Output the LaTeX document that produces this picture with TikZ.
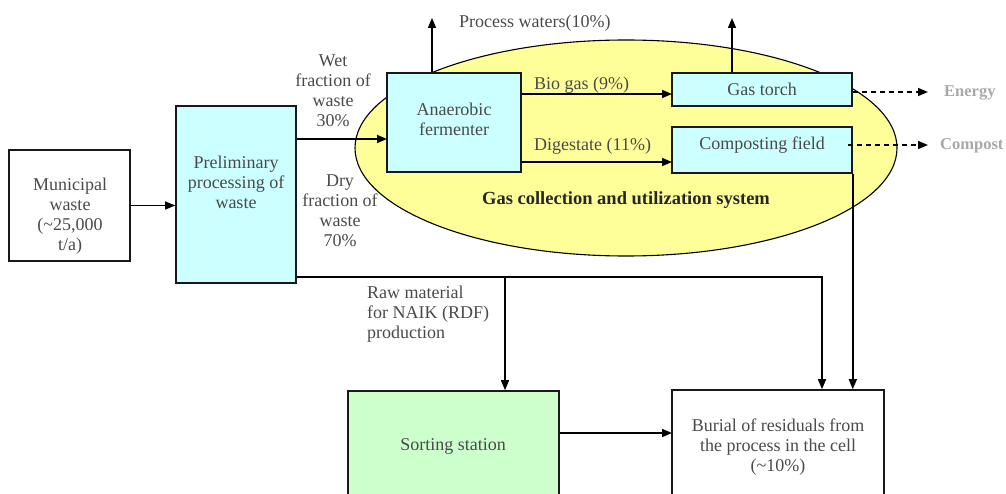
\documentclass[tikz,border=0pt]{standalone}
\usepackage{fontspec}
\setmainfont{Liberation Serif}
\usetikzlibrary{arrows.meta,shapes.geometric}
\definecolor{txt}{HTML}{4A4A4A}
\definecolor{cyanbox}{HTML}{CCFFFF}
\definecolor{greenbox}{HTML}{CCFFCC}
\definecolor{yel}{HTML}{FFFF99}
\definecolor{outgray}{HTML}{A8A8A8}
\begin{document}
\begin{tikzpicture}[x=1pt,y=-1pt,
  box/.style={draw=black!90, line width=1.6pt, inner sep=0pt},
  lbl/.style={text=txt, font=\fontsize{18}{20}\selectfont, align=center, inner sep=0pt},
  arr/.style={line width=1.5pt, -{Triangle[length=10pt,width=8pt]}},
  dasharr/.style={line width=1.5pt, dash pattern=on 5pt off 4pt, -{Triangle[length=10pt,width=8pt]}},
  outlbl/.style={text=outgray, font=\fontsize{16.5}{20}\selectfont\bfseries, inner sep=0pt, anchor=west}
]
\useasboundingbox (0,0) rectangle (1006,494);

% ellipse
\node[draw=black, line width=1.1pt, ellipse, fill=yel, minimum width=542pt, minimum height=216pt, inner sep=0pt] (gas) at (626,148) {};

% boxes
\node[box, minimum width=121pt, minimum height=111pt] (muni) at (69.5,205.5) {};
\node[box, fill=cyanbox, minimum width=120pt, minimum height=177pt] (prelim) at (236,194.5) {};
\node[box, fill=cyanbox, minimum width=134pt, minimum height=99pt] (anae) at (454,122.5) {};
\node[box, fill=cyanbox, minimum width=180pt, minimum height=33pt] (torch) at (762,89.5) {};
\node[box, fill=cyanbox, minimum width=180pt, minimum height=46pt] (comp) at (762,150) {};
\node[box, fill=greenbox, minimum width=211pt, minimum height=110pt] (sort) at (453.5,446) {};
\node[box, minimum width=212pt, minimum height=110pt] (burial) at (778,445) {};

% box texts
\node[lbl] (mutxt) at (70,216) {Municipal\\waste\\(\textasciitilde25,000\\t/a)};
\node[lbl] (prtxt) at (236,182) {Preliminary\\processing of\\waste};
\node[lbl] (antxt) at (454,119) {Anaerobic\\fermenter};
\node[lbl] (totxt) at (762,89) {Gas torch};
\node[lbl] (cotxt) at (762,145) {Composting field};
\node[lbl] (sotxt) at (453,446) {Sorting station};
\node[lbl] (butxt) at (778,447) {Burial of residuals from\\the process in the cell\\(\textasciitilde10\%)};
\node[lbl, font=\fontsize{18.5}{20}\selectfont\bfseries, text=black!85] (gastxt) at (626,200) {Gas collection and utilization system};

% flow labels
\node[lbl] (wetl) at (333,91) {Wet\\fraction of\\waste\\30\%};
\node[lbl] (dryl) at (340,211) {Dry\\fraction of\\waste\\70\%};
\node[lbl, align=left, anchor=west] (rawl) at (367,314) {Raw material\\for NAIK (RDF)\\production};
\node[lbl, anchor=west] (pwl) at (459,23) {Process waters(10\%)};
\node[lbl, anchor=west] (biol) at (534,85) {Bio gas (9\%)};
\node[lbl, anchor=west] (digl) at (534,146) {Digestate (11\%)};
\node[outlbl] (energy) at (944,93) {Energy};
\node[outlbl] (compost) at (940,146) {Compost};

% coordinates
\coordinate (wet) at (387,139);
\coordinate (pw) at (432,18);
\coordinate (tw) at (732,18);
\coordinate (bio) at (672,94);
\coordinate (dig) at (672,162);
\coordinate (en) at (928,92);
\coordinate (co) at (928,145);
\coordinate (b1) at (822,277);
\coordinate (b2) at (505,277);
\coordinate (sb) at (672,433);

% connectors
\draw[arr] (muni.east) -- (muni.east -| prelim.west);
\draw[arr] (prelim.east |- wet) -- (wet);
\draw[arr] (pw |- anae.north) -- (pw);
\draw[arr] (tw |- torch.north) -- (tw);
\draw[arr] (anae.east |- bio) -- (bio);
\draw[arr] (anae.east |- dig) -- (dig);
\draw[dasharr] (torch.east |- en) -- (en);
\draw[dasharr] ([xshift=-5pt]comp.east |- co) -- (co);
\draw[arr] (prelim.east |- b1) -- (b1) -- (b1 |- burial.north);
\draw[arr] (b2) -- (b2 |- sort.north);
\draw[arr] (comp.south east) -- (comp.south east |- burial.north);
\draw[arr] (sort.east |- sb) -- (sb);
\end{tikzpicture}
\end{document}
